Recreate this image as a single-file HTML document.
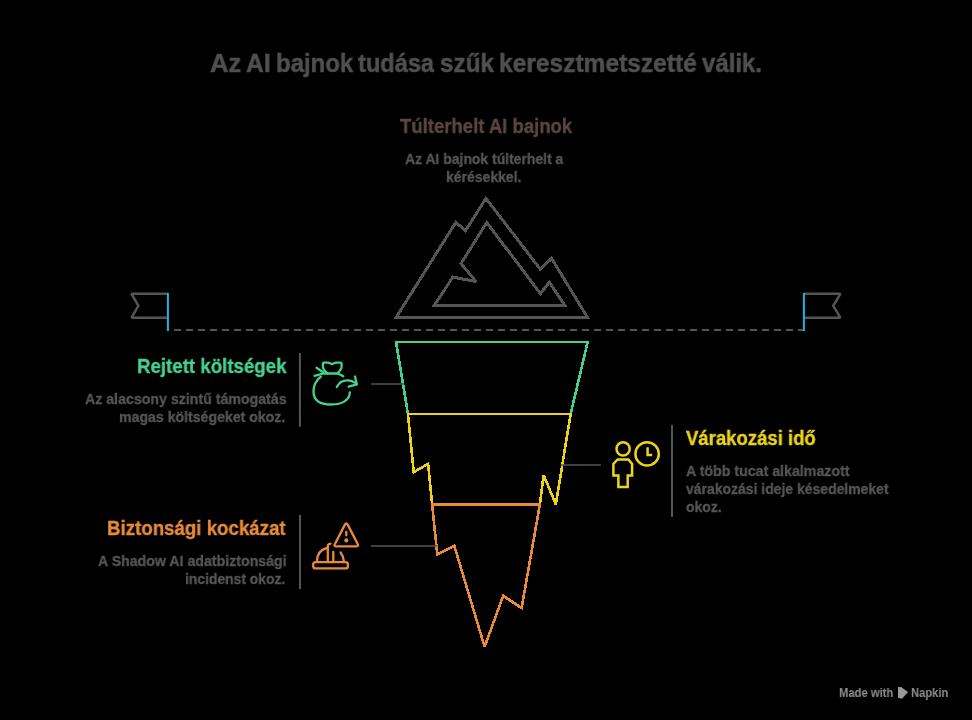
<!DOCTYPE html>
<html><head><meta charset="utf-8"><style>
html,body{margin:0;padding:0;background:#000;}
body{width:972px;height:720px;position:relative;overflow:hidden;font-family:"Liberation Sans", sans-serif;}
.t{position:absolute;white-space:nowrap;transform-origin:0 0;will-change:transform;}
.d{-webkit-text-stroke:0.35px currentColor;}
.h{-webkit-text-stroke:0.5px currentColor;}
</style></head><body>
<svg width="972" height="720" viewBox="0 0 972 720" style="position:absolute;left:0;top:0">
<g fill="none" stroke-linejoin="miter" stroke-linecap="butt">
 <!-- mountain -->
 <path d="M395.8 317.9 L455.8 222.4 L465.6 230.7 L485.9 198.4 L540.3 269.2 L551.6 258.4 L587.8 317.9 Z" stroke="#555555" stroke-width="3" shape-rendering="crispEdges" stroke-miterlimit="3"/>
 <path d="M486.8 222.4 L540.3 293.7 L549.3 282.3 L565.2 305.9 L433.9 305.9 L452.9 277.1 L476.2 281.7 L461.0 263.6 Z" stroke="#555555" stroke-width="3" shape-rendering="crispEdges" stroke-miterlimit="3"/>
 <!-- flags -->
 <path d="M167.9 293.8 L131.5 293.8 L138.4 305.8 L131.5 317.7 L167.9 317.7" stroke="#555555" stroke-width="2.5" stroke-miterlimit="1.8"/>
 <path d="M803.9 293.8 L840.4 293.8 L833.2 305.8 L840.4 317.7 L803.9 317.7" stroke="#555555" stroke-width="2.5" stroke-miterlimit="1.8"/>
 <line x1="168" y1="330" x2="804" y2="330" stroke="#555555" stroke-width="2" stroke-dasharray="7 5" stroke-dashoffset="-6"/>
 <line x1="167.9" y1="293" x2="167.9" y2="331" stroke="#1fb0e8" stroke-width="2"/>
 <line x1="803.9" y1="293" x2="803.9" y2="331" stroke="#1fb0e8" stroke-width="2"/>
 <!-- iceberg -->
 <path d="M396.05 341.8 L587.7 341.8 L570.7 413.8 L407.9 413.8 Z" stroke="#46d18f" stroke-width="2.6" shape-rendering="crispEdges" stroke-miterlimit="3"/>
 <path d="M407.9 413.8 L570.7 413.8 L555.8 504.3 L543.6 475.1 L539.9 504.3 L432.1 504.3 L428.1 463.8 L413.7 472.1 Z" stroke="#ecd41c" stroke-width="2.6" shape-rendering="crispEdges" stroke-miterlimit="3"/>
 <path d="M432.1 504.3 L539.9 504.3 L521.6 608 L503.2 595.8 L484.6 646.8 L454.4 546 L437.3 554.5 Z" stroke="#e88b3a" stroke-width="2.6" shape-rendering="crispEdges" stroke-miterlimit="3"/>
 <!-- connectors -->
 <line x1="371.2" y1="384" x2="403.6" y2="384" stroke="#555555" stroke-width="1.5"/>
 <line x1="560.6" y1="465" x2="600.9" y2="465" stroke="#555555" stroke-width="1.5"/>
 <line x1="371" y1="545.9" x2="437.3" y2="545.9" stroke="#555555" stroke-width="1.5"/>
 <!-- separators -->
 <line x1="299.9" y1="353" x2="299.9" y2="426.6" stroke="#555555" stroke-width="2"/>
 <line x1="672" y1="425" x2="672" y2="517" stroke="#555555" stroke-width="2"/>
 <line x1="300" y1="515" x2="300" y2="589" stroke="#555555" stroke-width="2"/>

 <!-- moneybag icon -->
 <g stroke="#46d18f" stroke-width="2.3" stroke-linecap="round" stroke-linejoin="round">
  <path d="M320.8 376.6 C316 380.5 313.5 385.5 313.5 391.5 C313.5 400.5 319.5 404.5 331 404.5 C343 404.5 349.8 399.5 349.8 392.3"/>
  <path d="M327.5 373.3 C324.5 371 322.9 369 322.9 366.5 L322.9 363.8 Q322.9 362.6 324.2 362.6 L328 362.6 Q330 363 332 364.2 Q334 363 336 362.6 L340.3 362.6 Q341.6 362.6 341.6 363.8 L341.6 366.5 C341.5 369 340 371 337.3 373.3"/>
  <path d="M316.5 367.8 L323 372.3"/>
  <path d="M314.5 375.8 L323.5 373.5 L338 373.5 L343.3 376.3"/>
  <path d="M336.8 387 C339 382.5 343 380.3 347 380.3 C351 380.3 354.5 382 356.8 384.3"/>
  <path d="M355 376.5 L356.8 384.3 L348.7 386.7"/>
 </g>
 <!-- person + clock -->
 <g stroke="#ecd41c" stroke-width="2.5" stroke-linejoin="miter">
  <circle cx="623.1" cy="448.9" r="6.6"/>
  <path d="M617.6 459.5 L628.4 459.5 L632.1 463.9 L632.1 475.5 L627.7 475.5 L627.7 487.1 L618.4 487.1 L618.4 475.5 L613.4 475.5 L613.4 463.9 Z"/>
  <circle cx="647.1" cy="453.9" r="11.7"/>
  <path d="M647.6 447.3 L647.6 455 L652.2 455"/>
 </g>
 <!-- hard hat + warning -->
 <g stroke="#e88b3a" stroke-width="2.3" stroke-linecap="round" stroke-linejoin="round">
  <rect x="313.2" y="562.1" width="34.7" height="6.3" rx="2.5"/>
  <path d="M317 561 C317 554 321 549.5 327 547.8"/>
  <path d="M327.8 561 L327.8 546 Q327.8 544 330.4 543.6"/>
  <path d="M333.3 561 L333.3 552"/>
  <path d="M340.6 552.5 C342.5 555 343.6 558 343.8 561"/>
  <path d="M344.9 524.6 Q346.3 522.0 347.7 524.6 L357.8 544.2 Q359 546.3 356.6 546.3 L336 546.3 Q333.6 546.3 334.8 544.2 Z"/>
  <path d="M346.3 532 L346.3 535.3"/>
  <circle cx="346.3" cy="540.4" r="0.9" fill="#e88b3a"/>
 </g>
 <!-- napkin logo -->
 <path d="M898 687 L901 687 L908 692 L902 698.7 L898 697.8 Z" fill="#999" stroke="none"/>
</g>
</svg>
<div class="t" style="left:209.5px;top:50px;font-size:26px;line-height:26px;font-weight:700;color:#505050;transform:scaleX(0.9816);-webkit-text-stroke:0.5px #505050;">Az</div>
<div class="t" style="left:246.04px;top:50px;font-size:26px;line-height:26px;font-weight:700;color:#505050;transform:scaleX(0.9485);-webkit-text-stroke:0.5px #505050;">AI</div>
<div class="t" style="left:275.83px;top:50px;font-size:26px;line-height:26px;font-weight:700;color:#505050;transform:scaleX(0.9216);-webkit-text-stroke:0.5px #505050;">bajnok</div>
<div class="t" style="left:357.9px;top:50px;font-size:26px;line-height:26px;font-weight:700;color:#505050;transform:scaleX(0.9074);-webkit-text-stroke:0.5px #505050;">tudása</div>
<div class="t" style="left:440.15px;top:50px;font-size:26px;line-height:26px;font-weight:700;color:#505050;transform:scaleX(0.9345);-webkit-text-stroke:0.5px #505050;">szűk</div>
<div class="t" style="left:498.72px;top:50px;font-size:26px;line-height:26px;font-weight:700;color:#505050;transform:scaleX(0.944);-webkit-text-stroke:0.5px #505050;">keresztmetszetté</div>
<div class="t" style="left:702.02px;top:50px;font-size:26px;line-height:26px;font-weight:700;color:#505050;transform:scaleX(0.9209);-webkit-text-stroke:0.5px #505050;">válik.</div>
<div class="t" style="left:399.65px;top:116px;font-size:20px;line-height:20px;font-weight:700;color:#5c4545;transform:scaleX(0.9258);-webkit-text-stroke:0.35px #5c4545;">Túlterhelt AI bajnok</div>
<div class="t" style="left:405.03px;top:151px;font-size:15.5px;line-height:15.5px;font-weight:700;color:#575757;transform:scaleX(0.8995);-webkit-text-stroke:0.3px #575757;">Az AI bajnok túlterhelt a</div>
<div class="t" style="left:445.92px;top:169px;font-size:15.5px;line-height:15.5px;font-weight:700;color:#575757;transform:scaleX(0.9022);-webkit-text-stroke:0.3px #575757;">kérésekkel.</div>
<div class="t" style="left:136.72px;top:356px;font-size:20px;line-height:20px;font-weight:700;color:#46d18f;transform:scaleX(0.9338);-webkit-text-stroke:0.35px #46d18f;">Rejtett költségek</div>
<div class="t" style="left:84.59px;top:391px;font-size:15.5px;line-height:15.5px;font-weight:700;color:#575757;transform:scaleX(0.9143);-webkit-text-stroke:0.3px #575757;">Az alacsony szintű támogatás</div>
<div class="t" style="left:118.95px;top:409px;font-size:15.5px;line-height:15.5px;font-weight:700;color:#575757;transform:scaleX(0.9105);-webkit-text-stroke:0.3px #575757;">magas költségeket okoz.</div>
<div class="t" style="left:107.37px;top:518px;font-size:20px;line-height:20px;font-weight:700;color:#e88b3a;transform:scaleX(0.9341);-webkit-text-stroke:0.35px #e88b3a;">Biztonsági kockázat</div>
<div class="t" style="left:97.83px;top:553px;font-size:15.5px;line-height:15.5px;font-weight:700;color:#575757;transform:scaleX(0.9138);-webkit-text-stroke:0.3px #575757;">A Shadow AI adatbiztonsági</div>
<div class="t" style="left:184.75px;top:571px;font-size:15.5px;line-height:15.5px;font-weight:700;color:#575757;transform:scaleX(0.895);-webkit-text-stroke:0.3px #575757;">incidenst okoz.</div>
<div class="t" style="left:686.36px;top:428px;font-size:20px;line-height:20px;font-weight:700;color:#ecd41c;transform:scaleX(0.9265);-webkit-text-stroke:0.35px #ecd41c;">Várakozási idő</div>
<div class="t" style="left:685.71px;top:463px;font-size:15.5px;line-height:15.5px;font-weight:700;color:#575757;transform:scaleX(0.9158);-webkit-text-stroke:0.3px #575757;">A több tucat alkalmazott</div>
<div class="t" style="left:686.45px;top:481px;font-size:15.5px;line-height:15.5px;font-weight:700;color:#575757;transform:scaleX(0.9008);-webkit-text-stroke:0.3px #575757;">várakozási ideje késedelmeket</div>
<div class="t" style="left:686.08px;top:499px;font-size:15.5px;line-height:15.5px;font-weight:700;color:#575757;transform:scaleX(0.9008);-webkit-text-stroke:0.3px #575757;">okoz.</div>
<div class="t" style="left:839.47px;top:687px;font-size:12.5px;line-height:12.5px;font-weight:700;color:#8f8f8f;transform:scaleX(0.8988);">Made with</div>
<div class="t" style="left:911.13px;top:687px;font-size:12.5px;line-height:12.5px;font-weight:700;color:#8f8f8f;transform:scaleX(0.8963);">Napkin</div>
</body></html>
